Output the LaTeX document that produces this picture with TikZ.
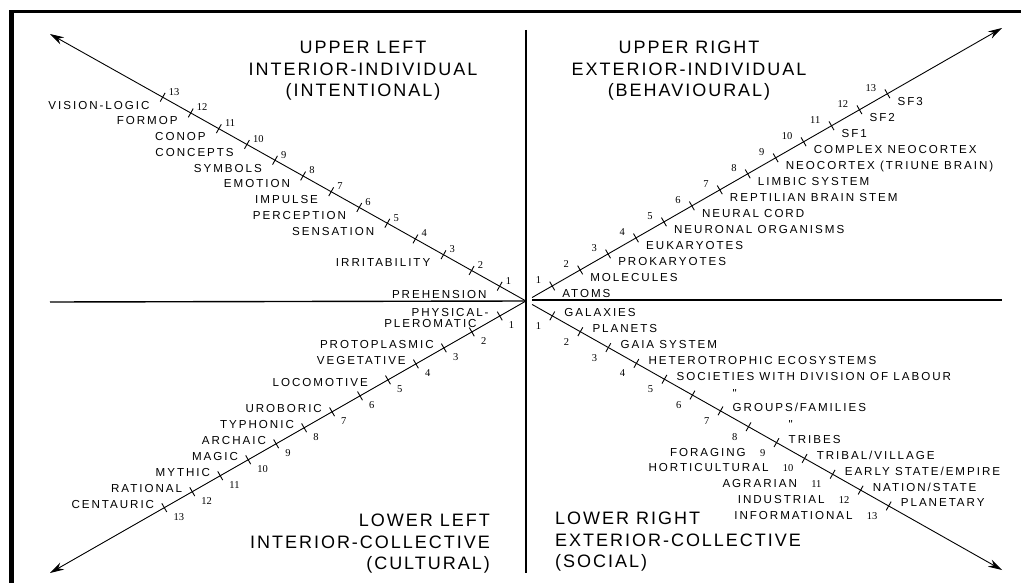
\documentclass[tikz,border=0pt]{standalone}
\usepackage{fontspec}
\setmainfont{Liberation Sans}
\newfontfamily\lblfont[LetterSpace=17]{Liberation Sans}
\newfontfamily\ttlfont[LetterSpace=11]{Liberation Sans}
\newfontfamily\numfont{Liberation Serif}
\usetikzlibrary{arrows.meta,calc,positioning}
\tikzset{
  axis/.style={line width=0.9pt, -{Stealth[length=14pt,width=8pt]}},
  tickmark/.style={line width=0.9pt},
  lbl/.style={font=\lblfont\fontsize{11.6}{13}\selectfont, inner sep=0pt},
  num/.style={font=\numfont\fontsize{10.5}{12}\selectfont, inner sep=0pt},
  ttl/.style={font=\ttlfont\fontsize{18}{21.5}\selectfont, inner sep=0pt},
}
\begin{document}
\begin{tikzpicture}[x=1pt,y=-1pt]
  \useasboundingbox (0,0) rectangle (1021,583);
  % frame
  \draw[line width=5.5pt] (11.5,10.5) -- (11.5,583);
  \draw[line width=3pt] (9,12) -- (1021,12);
  % centre and ends of the axes
  \coordinate (O) at (526,301);
  \coordinate (ulTip) at (50,34);
  \coordinate (urTip) at (1002,28);
  \coordinate (llTip) at (50,573);
  \coordinate (lrTip) at (1002,570);
  \coordinate (nEnd) at (526,30);
  \coordinate (sEnd) at (526,573);
  \coordinate (wEnd) at (50,302);
  \coordinate (eStart) at (532,300);
  \coordinate (eEnd) at (1002,300);
  \coordinate (urStart) at ($(O)!7pt!(urTip)$);
  \coordinate (lrStart) at ($(O)!7pt!(lrTip)$);
  % quadrant lines
  \draw[line width=2pt] (nEnd) -- (sEnd);
  \draw[line width=1.4pt] (wEnd) -- (O);
  \draw[line width=1.4pt] (eStart) -- (eEnd);
  % diagonal axes
  \draw[axis] (O) -- (ulTip);
  \draw[axis] (urStart) -- (urTip);
  \draw[axis] (O) -- (llTip);
  \draw[axis] (lrStart) -- (lrTip);
  % tick marks
  \foreach \q in {ul,ur,ll,lr}
    \foreach \k in {1,...,13}{
      \pgfmathsetmacro\d{32.2*\k-2}
      \coordinate (\q\k) at ($(O)!\d pt!(\q Tip)$);
      \draw[tickmark] ($(\q\k)!5pt!90:(O)$) -- ($(\q\k)!5pt!-90:(O)$);
    }
  % level numbers
  \foreach \k in {1,...,13}{
    \node[num, anchor=base west] (ulN\k) at ($(ul\k)+(6,-2)$) {\k};
    \node[num, anchor=base east] (urN\k) at ($(ur\k)+(-11,-2)$) {\k};
    \node[num, anchor=base west] (llN\k) at ($(ll\k)+(9,13)$) {\k};
    \node[num, anchor=base east] (lrN\k) at ($(lr\k)+(-11,13.5)$) {\k};
  }
  % upper left
  \foreach \k/\t in {13/VISION-LOGIC, 12/FORMOP, 11/CONOP, 10/CONCEPTS,
      9/SYMBOLS, 8/EMOTION, 7/IMPULSE, 6/PERCEPTION, 5/SENSATION,
      3/IRRITABILITY, 1/PREHENSION}
    \node[lbl, anchor=base east] (ulL\k) at ($(ul\k)+(-13,12)$) {\t};
  % upper right
  \foreach \k/\t in {1/ATOMS, 2/MOLECULES, 3/PROKARYOTES, 4/EUKARYOTES,
      5/NEURONAL ORGANISMS, 6/NEURAL CORD, 7/REPTILIAN BRAIN STEM,
      8/LIMBIC SYSTEM, 9/NEOCORTEX (TRIUNE BRAIN), 10/COMPLEX NEOCORTEX,
      11/SF1, 12/SF2, 13/SF3}
    \node[lbl, anchor=base west] (urL\k) at ($(ur\k)+(10,12)$) {\t};
  % lower left
  \node[lbl, anchor=base east] (llL1a) at ($(ll1)+(-11,1)$) {PHYSICAL-};
  \node[lbl, anchor=base east] (llL1b) at ($(ll1)+(-23,12)$) {PLEROMATIC};
  \node[lbl, anchor=base east] (llL5) at ($(ll5)+(-20,7)$) {LOCOMOTIVE};
  \foreach \k/\t in {3/PROTOPLASMIC, 4/VEGETATIVE, 7/UROBORIC, 8/TYPHONIC,
      9/ARCHAIC, 10/MAGIC, 11/MYTHIC, 12/RATIONAL, 13/CENTAURIC}
    \node[lbl, anchor=base east] (llL\k) at ($(ll\k)+(-10,1)$) {\t};
  % lower right
  \foreach \k/\t in {1/GALAXIES, 2/PLANETS, 3/GAIA SYSTEM,
      4/HETEROTROPHIC ECOSYSTEMS, 5/SOCIETIES WITH DIVISION OF LABOUR,
      7/{GROUPS/FAMILIES}, 9/TRIBES, 10/{TRIBAL/VILLAGE},
      11/{EARLY STATE/EMPIRE}, 12/{NATION/STATE}, 13/PLANETARY}
    \node[lbl, anchor=base west] (lrL\k) at ($(lr\k)+(12,1)$) {\t};
  \foreach \k in {6,8}
    \node[lbl, anchor=base west] (lrL\k) at ($(lr\k)+(40,2)$) {"};
  \foreach \k/\t in {9/FORAGING, 10/HORTICULTURAL, 11/AGRARIAN,
      12/INDUSTRIAL, 13/INFORMATIONAL}
    \node[lbl, base left=14pt of lrN\k] (lrM\k) {\t};
  % quadrant titles
  \node[ttl, align=center] (ulTitle) at (363,71)
    {UPPER LEFT\\INTERIOR-INDIVIDUAL\\(INTENTIONAL)};
  \node[ttl, align=center] (urTitle) at (689,71)
    {UPPER RIGHT\\EXTERIOR-INDIVIDUAL\\(BEHAVIOURAL)};
  \node[ttl, align=right, anchor=east] (llTitle) at (490,544)
    {LOWER LEFT\\INTERIOR-COLLECTIVE\\(CULTURAL)};
  \node[ttl, align=left, anchor=west] (lrTitle) at (555,542)
    {LOWER RIGHT\\EXTERIOR-COLLECTIVE\\(SOCIAL)};
\end{tikzpicture}
\end{document}
